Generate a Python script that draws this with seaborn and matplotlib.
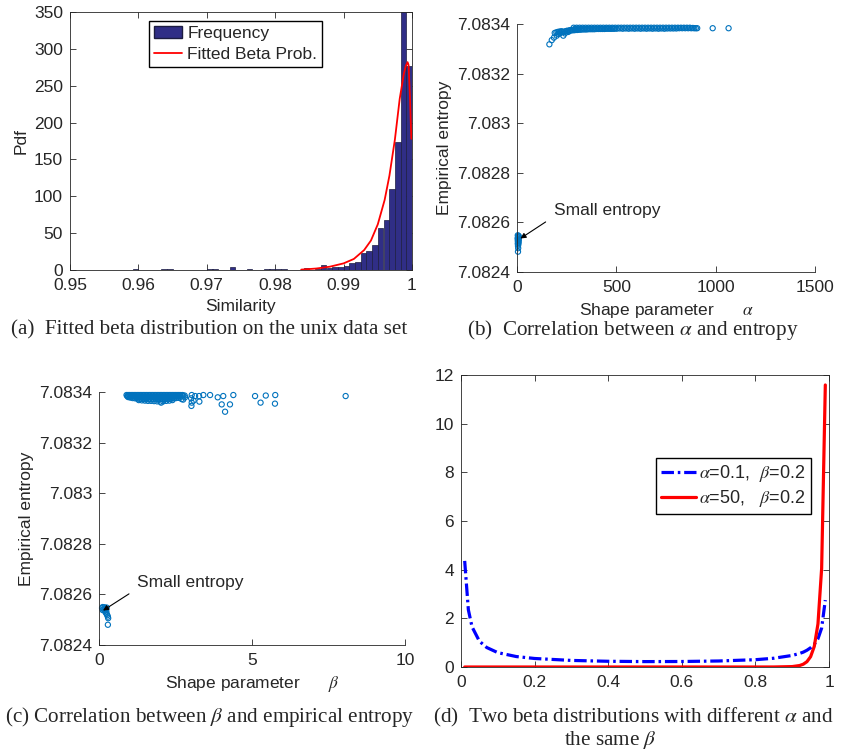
import numpy as np
import pandas as pd
import seaborn as sns
import matplotlib.pyplot as plt
from matplotlib.patches import Patch
from matplotlib.lines import Line2D

# ---- (a) similarity histogram (bin centres, pdf heights) ----
sim_centers = [0.959583, 0.963750, 0.964583, 0.970417, 0.971250, 0.973750, 0.976250,
               0.978750, 0.979583, 0.980417, 0.981250, 0.984583, 0.986250, 0.987083,
               0.987917, 0.988750, 0.989583, 0.990417, 0.991250, 0.992083, 0.992917,
               0.993750, 0.994583, 0.995417, 0.996250, 0.997083, 0.997917, 0.998750,
               0.999583]
sim_pdf = [1, 1, 1, 1, 1, 4, 1, 1.5, 2, 2, 1.5, 3, 1, 7, 3, 4, 4.5, 6, 9, 11, 23,
           26, 34, 57, 68, 110, 174, 430, 277]
fit_x = [0.9838, 0.9860, 0.9880, 0.9900, 0.9915, 0.9930, 0.9940, 0.9950, 0.9960,
         0.9967, 0.9975, 0.9982, 0.9988, 0.9991, 0.99935, 0.9995, 0.9997, 0.9999]
fit_pdf = [0.5, 2, 4.5, 9, 15, 27, 40, 62, 95, 128, 177, 232, 266, 277, 282, 278,
           235, 178]

# ---- (b) alpha vs entropy ----
b_small_alpha = [4, 7, 9, 5, 8, 3, 6, 9, 4, 7, 5, 8, 4, 6, 5, 6, 5]
b_small_ent = [7.082548, 7.082546, 7.082544, 7.082541, 7.082538, 7.082535, 7.082532,
               7.082529, 7.082526, 7.082523, 7.082520, 7.082517, 7.082514, 7.082510,
               7.082505, 7.082496, 7.082482]
b_rise_alpha = [163, 175, 186, 200, 208, 216, 225, 233, 241, 250, 258, 266, 275]
b_rise_ent = [7.083318, 7.083335, 7.083345, 7.083353, 7.083360, 7.083362, 7.083370,
              7.083353, 7.083362, 7.083372, 7.083368, 7.083374, 7.083376]
b_low_alpha = [190, 198, 205, 212, 220, 228, 235, 242, 250, 258, 265, 272, 280, 288,
               295, 303, 310, 320, 330, 340, 350, 360, 370, 380, 390, 400, 410, 420,
               430, 440, 450, 460, 470, 480, 490]
b_low_ent = [7.083364, 7.083366, 7.083368, 7.083369, 7.083370, 7.083369, 7.083368,
             7.083370, 7.083372, 7.083373, 7.083374, 7.083374, 7.083375, 7.083375,
             7.083376, 7.083376, 7.083377, 7.083377, 7.083378, 7.083378, 7.083378,
             7.083379, 7.083379, 7.083379, 7.083379, 7.083380, 7.083380, 7.083380,
             7.083380, 7.083380, 7.083381, 7.083381, 7.083381, 7.083381, 7.083381]
b_band_alpha = [285, 300, 315, 330, 345, 360, 375, 390, 405, 420, 435, 450, 465, 480,
                495, 510, 525, 540, 555, 570, 585, 600, 615, 630, 645, 660, 675, 690,
                705, 720, 735, 750, 765, 780, 795, 810, 825, 840, 855, 870, 885, 900,
                985, 1065]
b_band_ent = [7.083385, 7.083385, 7.083385, 7.083385, 7.083385, 7.083385, 7.083385,
              7.083385, 7.083385, 7.083385, 7.083385, 7.083385, 7.083385, 7.083385,
              7.083385, 7.083385, 7.083385, 7.083385, 7.083385, 7.083385, 7.083385,
              7.083385, 7.083385, 7.083385, 7.083385, 7.083385, 7.083385, 7.083385,
              7.083385, 7.083385, 7.083385, 7.083385, 7.083385, 7.083385, 7.083385,
              7.083385, 7.083385, 7.083385, 7.083385, 7.083385, 7.083384, 7.083383,
              7.083383, 7.083383]
b_band2_alpha = [292, 307, 322, 337, 352, 367, 382, 397, 412, 427, 442, 457, 472, 487,
                 502, 517, 532, 547, 562, 577, 592, 607, 622, 637, 652, 667, 682, 697,
                 712, 727, 742, 757, 772, 787, 802, 817, 832, 847, 862, 877, 892, 907]
b_band2_ent = [7.083381, 7.083382, 7.083381, 7.083382, 7.083381, 7.083382, 7.083381,
               7.083382, 7.083381, 7.083382, 7.083381, 7.083382, 7.083381, 7.083382,
               7.083381, 7.083382, 7.083381, 7.083382, 7.083381, 7.083382, 7.083381,
               7.083382, 7.083381, 7.083382, 7.083381, 7.083382, 7.083381, 7.083382,
               7.083381, 7.083382, 7.083381, 7.083382, 7.083382, 7.083382, 7.083382,
               7.083383, 7.083383, 7.083383, 7.083383, 7.083383, 7.083383, 7.083383]

# ---- (c) beta vs entropy ----
c_small_beta = [0.12, 0.18, 0.25, 0.10, 0.20, 0.15, 0.22, 0.12, 0.18, 0.24, 0.22, 0.25,
                0.27, 0.29, 0.30, 0.29]
c_small_ent = [7.082550, 7.082549, 7.082548, 7.082546, 7.082545, 7.082542, 7.082540,
               7.082538, 7.082536, 7.082533, 7.082528, 7.082523, 7.082518, 7.082512,
               7.082506, 7.082480]
c_top_beta = [0.90, 0.95, 1.00, 1.05, 1.10, 1.15, 1.20, 1.25, 1.30, 1.35, 1.40, 1.45,
              1.50, 1.55, 1.60, 1.65, 1.70, 1.75, 1.80, 1.85, 1.90, 1.95, 2.00, 2.05,
              2.10, 2.15, 2.20, 2.25, 2.30, 2.35, 2.40, 2.45, 2.50, 2.55, 2.60, 2.65,
              2.70, 2.75, 2.80]
c_top_ent = [7.083388, 7.083388, 7.083388, 7.083388, 7.083388, 7.083388, 7.083388,
             7.083388, 7.083388, 7.083388, 7.083388, 7.083388, 7.083388, 7.083388,
             7.083388, 7.083388, 7.083388, 7.083388, 7.083388, 7.083388, 7.083388,
             7.083388, 7.083388, 7.083388, 7.083388, 7.083388, 7.083388, 7.083388,
             7.083388, 7.083388, 7.083388, 7.083388, 7.083388, 7.083388, 7.083388,
             7.083388, 7.083387, 7.083386, 7.083386]
c_top2_beta = [0.92, 0.97, 1.02, 1.07, 1.12, 1.17, 1.22, 1.27, 1.32, 1.37, 1.42, 1.47,
               1.52, 1.57, 1.62, 1.67, 1.72, 1.77, 1.82, 1.87, 1.92, 1.97, 2.02, 2.07,
               2.12, 2.17, 2.22, 2.27, 2.32, 2.37, 2.42, 2.47, 2.52, 2.57, 2.62]
c_top2_ent = [7.083384, 7.083383, 7.083383, 7.083382, 7.083382, 7.083382, 7.083381,
              7.083381, 7.083381, 7.083381, 7.083380, 7.083380, 7.083380, 7.083380,
              7.083380, 7.083380, 7.083380, 7.083380, 7.083380, 7.083380, 7.083380,
              7.083380, 7.083380, 7.083380, 7.083380, 7.083380, 7.083380, 7.083381,
              7.083381, 7.083381, 7.083382, 7.083382, 7.083383, 7.083383, 7.083384]
c_mid_beta = [0.95, 1.02, 1.10, 1.18, 1.25, 1.32, 1.40, 1.48, 1.55, 1.62, 1.70, 1.78,
              1.85, 1.92, 2.00, 2.08, 2.15, 2.22, 2.30, 2.38, 2.45, 2.52, 2.60, 2.65]
c_mid_ent = [7.083380, 7.083378, 7.083376, 7.083375, 7.083374, 7.083373, 7.083373,
             7.083372, 7.083372, 7.083372, 7.083372, 7.083372, 7.083372, 7.083372,
             7.083372, 7.083372, 7.083372, 7.083373, 7.083373, 7.083374, 7.083375,
             7.083376, 7.083377, 7.083378]
c_low_beta = [1.30, 1.40, 1.50, 1.60, 1.70, 1.80, 1.90, 2.00, 2.03, 2.10, 2.20, 2.30,
              2.40, 2.70, 2.75]
c_low_ent = [7.083368, 7.083367, 7.083366, 7.083365, 7.083365, 7.083364, 7.083363,
             7.083362, 7.083358, 7.083363, 7.083365, 7.083366, 7.083368, 7.083372,
             7.083370]
c_out_beta = [2.72, 2.81, 3.03, 3.01, 3.14, 3.09, 3.27, 3.03, 3.02, 3.28, 3.41, 3.63,
              3.88, 4.06, 4.01, 4.12, 4.28, 4.39, 5.10, 5.28, 5.45, 5.76, 5.75, 8.06]
c_out_ent = [7.083388, 7.083379, 7.083388, 7.083375, 7.083384, 7.083366, 7.083384,
             7.083358, 7.083345, 7.083362, 7.083388, 7.083388, 7.083379, 7.083384,
             7.083351, 7.083322, 7.083351, 7.083388, 7.083384, 7.083358, 7.083386,
             7.083388, 7.083354, 7.083384]

# ---- (d) two beta pdfs ----
pdf_x = [0.01, 0.02, 0.03, 0.05, 0.07, 0.10, 0.15, 0.20, 0.30, 0.40, 0.50, 0.60, 0.70,
         0.80, 0.85, 0.90, 0.92, 0.93, 0.94, 0.95, 0.96, 0.97, 0.98, 0.99]
pdf_a01 = [4.36, 2.35, 1.65, 1.06, 0.80, 0.59, 0.43, 0.35, 0.27, 0.235, 0.222, 0.226,
           0.247, 0.30, 0.36, 0.475, 0.557, 0.61, 0.688, 0.79, 0.933, 1.16, 1.60, 2.75]
pdf_a50 = [0, 0, 0, 0, 0, 0, 0, 0, 0, 0, 0, 0, 0, 0.00002, 0.0008, 0.017, 0.060, 0.114,
           0.218, 0.424, 0.846, 1.77, 4.05, 11.59]

entropy_ticks = [7.0824, 7.0826, 7.0828, 7.0830, 7.0832, 7.0834]
entropy_labels = ['7.0824', '7.0826', '7.0828', '7.083', '7.0832', '7.0834']

sns.set_theme(style='ticks')
plt.rcParams['font.family'] = ['Liberation Sans', 'DejaVu Sans']
plt.rcParams['mathtext.fontset'] = 'stix'
plt.rcParams['font.size'] = 12.5
plt.rcParams['axes.linewidth'] = 0.6
plt.rcParams['axes.edgecolor'] = '#262626'

W, H = 841, 751
fig = plt.figure(figsize=(W / 100, H / 100), dpi=100)


def box(l, t, r, b):
    return [l / W, 1 - b / H, (r - l) / W, (b - t) / H]


def style_ax(ax, boxed):
    ax.tick_params(direction='in', length=4, width=0.6, labelsize=12.5,
                   colors='#262626', top=boxed, right=boxed, pad=5)
    ax.tick_params(axis='x', pad=6)
    if not boxed:
        ax.spines['top'].set_visible(False)
        ax.spines['right'].set_visible(False)


blue = '#0072BD'
navy = '#302e86'

# (a)
ax = fig.add_axes(box(70, 12, 412, 270))
sns.histplot(x=sim_centers, weights=sim_pdf, bins=60, binrange=(0.95, 1.0),
             color=navy, edgecolor='#1c1c40', linewidth=0.5, alpha=1, ax=ax)
sns.lineplot(x=fit_x, y=fit_pdf, color='red', lw=1.3, ax=ax)
ax.set_xlim(0.95, 1.0)
ax.set_ylim(0, 350)
ax.set_xticks([0.95, 0.96, 0.97, 0.98, 0.99, 1.0])
ax.set_xticklabels(['0.95', '0.96', '0.97', '0.98', '0.99', '1'])
ax.set_yticks(range(0, 351, 50))
ax.set_xlabel('Similarity', fontsize=12.5)
ax.set_ylabel('Pdf', fontsize=12.5)
style_ax(ax, True)
ax.legend(handles=[Patch(facecolor=navy, edgecolor='#1c1c40'),
                   Line2D([], [], color='red', lw=1.3)],
          labels=['Frequency', 'Fitted Beta Prob.'],
          loc='upper left', bbox_to_anchor=(0.231, 0.965), fancybox=False,
          edgecolor='black', framealpha=1, fontsize=12.5, handlelength=1.6,
          handletextpad=0.3, borderpad=0.3, labelspacing=0.3, borderaxespad=0)

# (b)
ax = fig.add_axes(box(517, 24, 815, 272))
b_alpha = b_small_alpha + b_rise_alpha + b_low_alpha + b_band_alpha + b_band2_alpha
b_ent = b_small_ent + b_rise_ent + b_low_ent + b_band_ent + b_band2_ent
sns.scatterplot(x=b_alpha, y=b_ent, color=blue, facecolor='none', edgecolor=blue,
                s=14, linewidth=0.8, ax=ax, clip_on=False)
ax.set_xlim(0, 1500)
ax.set_ylim(7.0824, 7.0834)
ax.set_xticks([0, 500, 1000, 1500])
ax.set_yticks(entropy_ticks)
ax.set_yticklabels(entropy_labels)
ax.set_xlabel('Shape parameter      $\\alpha$', fontsize=12.5)
ax.set_ylabel('Empirical entropy', fontsize=12.5)
style_ax(ax, False)
ax.annotate('Small entropy', xy=(17, 7.082535), xytext=(184, 7.082647),
            fontsize=12.5, va='center',
            arrowprops=dict(arrowstyle='-|>', color='black', lw=0.8,
                            mutation_scale=8, relpos=(0, 0.1), shrinkA=4, shrinkB=0))

# (c)
ax = fig.add_axes(box(99, 392, 405, 645))
c_beta = c_small_beta + c_top_beta + c_top2_beta + c_mid_beta + c_low_beta + c_out_beta
c_ent = c_small_ent + c_top_ent + c_top2_ent + c_mid_ent + c_low_ent + c_out_ent
sns.scatterplot(x=c_beta, y=c_ent, color=blue, facecolor='none', edgecolor=blue,
                s=14, linewidth=0.8, ax=ax, clip_on=False)
ax.set_xlim(0, 10)
ax.set_ylim(7.0824, 7.0834)
ax.set_xticks([0, 5, 10])
ax.set_yticks(entropy_ticks)
ax.set_yticklabels(entropy_labels)
ax.set_xlabel('Shape parameter      $\\beta$', fontsize=12.5)
ax.set_ylabel('Empirical entropy', fontsize=12.5)
style_ax(ax, False)
ax.annotate('Small entropy', xy=(0.13, 7.082536), xytext=(1.24, 7.082646),
            fontsize=12.5, va='center',
            arrowprops=dict(arrowstyle='-|>', color='black', lw=0.8,
                            mutation_scale=8, relpos=(0, 0.1), shrinkA=4, shrinkB=0))

# (d)
ax = fig.add_axes(box(461, 375, 829, 667))
sns.lineplot(x=pdf_x, y=pdf_a01, color='blue', lw=2.3,
             linestyle=(0, (3.9, 1.2, 0.8, 1.2)),
             label='$\\alpha$=0.1,  $\\beta$=0.2', ax=ax)
sns.lineplot(x=pdf_x, y=pdf_a50, color='red', lw=2.3,
             label='$\\alpha$=50,   $\\beta$=0.2', ax=ax)
ax.set_xlim(0, 1)
ax.set_ylim(0, 12)
ax.set_xticks([0, 0.2, 0.4, 0.6, 0.8, 1])
ax.set_xticklabels(['0', '0.2', '0.4', '0.6', '0.8', '1'])
ax.set_yticks(range(0, 13, 2))
style_ax(ax, True)
ax.legend(loc='upper left', bbox_to_anchor=(0.53, 0.716), fancybox=False,
          edgecolor='black', framealpha=1, fontsize=13, handlelength=1.9,
          handletextpad=0.2, borderpad=0.3, labelspacing=0.2, borderaxespad=0)

# captions
cap = dict(family=['Liberation Serif', 'DejaVu Serif'], fontsize=15.2,
           ha='center', va='center')
fig.text(209 / W, 1 - 330 / H, '(a)  Fitted beta distribution on the unix data set', **cap)
fig.text(633 / W, 1 - 330 / H, '(b)  Correlation between $\\alpha$ and entropy', **cap)
fig.text(210 / W, 1 - 717 / H, '(c) Correlation between $\\beta$ and empirical entropy', **cap)
fig.text(633 / W, 1 - 717 / H, '(d)  Two beta distributions with different $\\alpha$ and', **cap)
fig.text(610 / W, 1 - 740 / H, 'the same $\\beta$', **cap)

fig.savefig('out.png', dpi=100)
